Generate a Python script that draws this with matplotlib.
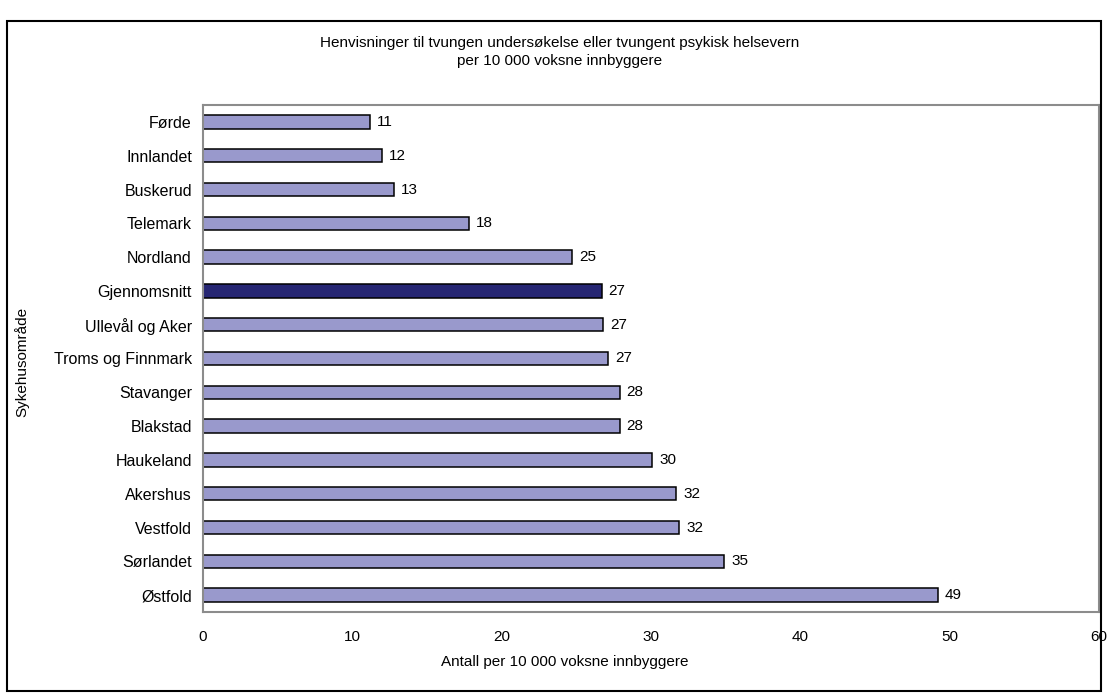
import matplotlib.pyplot as plt
from matplotlib.patches import Rectangle

plt.rcParams["font.family"] = ["Liberation Sans", "DejaVu Sans"]

# Referrals per 10 000 adults, by hospital area (top to bottom)
regions = [
    "Førde", "Innlandet", "Buskerud", "Telemark", "Nordland",
    "Gjennomsnitt", "Ullevål og Aker", "Troms og Finnmark", "Stavanger",
    "Blakstad", "Haukeland", "Akershus", "Vestfold", "Sørlandet", "Østfold",
]
rates = [
    11.2, 12.0, 12.8, 17.8, 24.7,
    26.7, 26.8, 27.15, 27.9,
    27.9, 30.1, 31.7, 31.9, 34.9, 49.2,
]
highlight = "Gjennomsnitt"

BAR_COLOR = "#9999cc"
AVG_COLOR = "#262673"
W, H = 1109, 695
FS = 11

fig = plt.figure(figsize=(W / 100, H / 100), dpi=100)
ax = fig.add_axes([203 / W, 1 - 612 / H, 896 / W, 507 / H])

ypos = list(range(len(regions)))
colors = [AVG_COLOR if r == highlight else BAR_COLOR for r in regions]
bars = ax.barh(ypos, rates, height=0.4, color=colors,
               edgecolor="black", linewidth=1.1)

for bar, v in zip(bars, rates):
    ax.annotate(f"{v:.0f}", (v, bar.get_y() + bar.get_height() / 2),
                xytext=(5, 0), textcoords="offset points",
                ha="left", va="center", fontsize=FS)

ax.set_xlim(0, 60)
ax.set_ylim(len(regions) - 0.5, -0.5)
ax.set_xticks(range(0, 61, 10))
ax.set_yticks(ypos)
ax.set_yticklabels(regions)
ax.tick_params(axis="both", length=0, labelsize=FS)
ax.tick_params(axis="x", pad=13)
ax.tick_params(axis="y", labelsize=11.5, pad=8)
for sp in ax.spines.values():
    sp.set_color("#8c8c8c")
    sp.set_linewidth(1.5)

fig.text(560 / W, 1 - 52 / H,
         "Henvisninger til tvungen undersøkelse eller tvungent psykisk helsevern\n"
         "per 10 000 voksne innbyggere",
         ha="center", va="center", fontsize=FS, linespacing=1.35)
fig.text(565 / W, 1 - 662 / H, "Antall per 10 000 voksne innbyggere",
         ha="center", va="center", fontsize=FS)
fig.text(22 / W, 1 - 362 / H, "Sykehusområde", rotation=90,
         ha="center", va="center", fontsize=FS)

# outer chart frame
fig.patches.append(Rectangle((7 / W, 1 - 691 / H), 1094 / W, 670 / H,
                             transform=fig.transFigure, fill=False,
                             edgecolor="black", linewidth=1.5))

fig.savefig("out.png", dpi=100)
